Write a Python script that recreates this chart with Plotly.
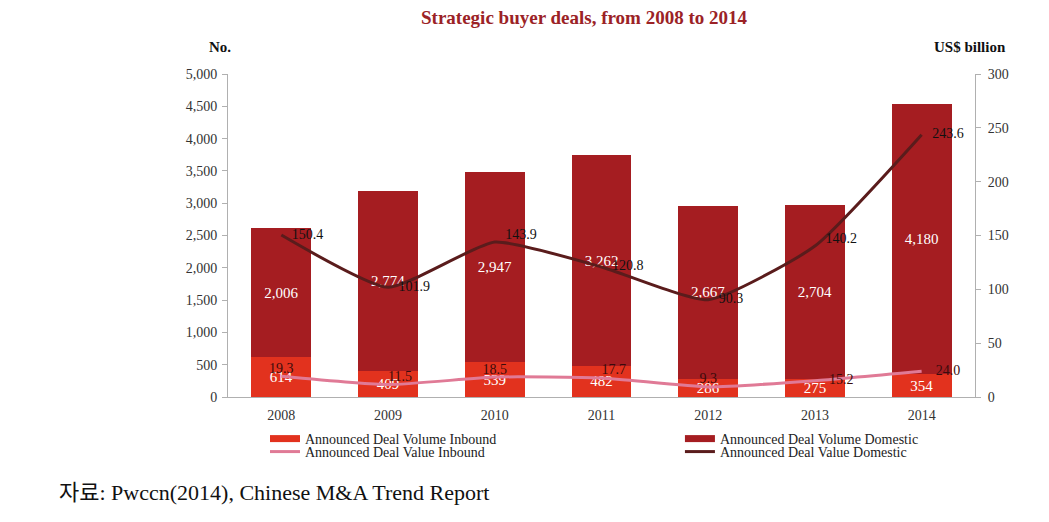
import plotly.graph_objects as go

years = ["2008", "2009", "2010", "2011", "2012", "2013", "2014"]
vol_inbound = [614, 409, 539, 482, 286, 275, 354]
vol_domestic = [2006, 2774, 2947, 3262, 2667, 2704, 4180]
val_inbound = [19.3, 11.5, 18.5, 17.7, 9.3, 15.2, 24.0]
val_domestic = [150.4, 101.9, 143.9, 120.8, 90.3, 140.2, 243.6]

left_ticks = [0, 500, 1000, 1500, 2000, 2500, 3000, 3500, 4000, 4500, 5000]
right_ticks = [0, 50, 100, 150, 200, 250, 300]

SERIF = "Liberation Serif, DejaVu Serif, serif"
C_IN = "#E2321E"
C_DOM = "#A51D21"
C_VIN = "#E07A96"
C_VDOM = "#5A1C1C"
NB = "\u00a0"

fig = go.Figure()
fig.add_trace(go.Bar(
    x=years, y=vol_inbound, name="Announced Deal Volume Inbound",
    marker=dict(color=C_IN, line=dict(width=0)),
    text=[f"{v:,}" for v in vol_inbound], textposition="inside",
    insidetextanchor="middle", constraintext="none",
    textfont=dict(color="white", size=15, family=SERIF),
    showlegend=False,
))
fig.add_trace(go.Bar(
    x=years, y=vol_domestic, name="Announced Deal Volume Domestic",
    marker=dict(color=C_DOM, line=dict(width=0)),
    text=[f"{v:,}" for v in vol_domestic], textposition="inside",
    insidetextanchor="middle", constraintext="none",
    textfont=dict(color="white", size=15, family=SERIF),
    showlegend=False,
))

in_pos = ["top center", "top right", "top center", "top right",
          "top center", "middle right", "middle right"]
in_txt = [(NB * 4 + f"{v:.1f}") if p == "middle right" else f"{v:.1f}"
          for v, p in zip(val_inbound, in_pos)]
fig.add_trace(go.Scatter(
    x=years, y=val_inbound, name="Announced Deal Value Inbound", yaxis="y2",
    mode="lines+text", line=dict(color=C_VIN, width=3, shape="spline", smoothing=0.5),
    text=in_txt, textposition=in_pos,
    textfont=dict(color="#3a0c0c", size=14, family=SERIF),
    legend="legend2",
))
dom_pos = ["middle right", "middle right", "top right", "middle right",
           "middle right", "top right", "middle right"]
fig.add_trace(go.Scatter(
    x=years, y=val_domestic, name="Announced Deal Value Domestic", yaxis="y2",
    mode="lines+text", line=dict(color=C_VDOM, width=3, shape="spline", smoothing=0.5),
    text=[NB * 3 + f"{v:.1f}" for v in val_domestic], textposition=dom_pos,
    textfont=dict(color="#111111", size=14, family=SERIF),
    legend="legend4",
))
# legend keys for the bar series (drawn as wide rectangles like the original)
fig.add_trace(go.Scatter(
    x=[years[0]], y=[None], name="Announced Deal Volume Inbound", mode="lines",
    line=dict(color=C_IN, width=7), legend="legend", hoverinfo="skip",
))
fig.add_trace(go.Scatter(
    x=[years[0]], y=[None], name="Announced Deal Volume Domestic", mode="lines",
    line=dict(color=C_DOM, width=7), legend="legend3", hoverinfo="skip",
))

axis_font = dict(family=SERIF, size=14, color="#333333")
leg_font = dict(family=SERIF, size=14, color="#222222")


def leg(x, y):
    return dict(x=x, y=y, xanchor="left", yanchor="top", orientation="v",
                itemwidth=30, font=leg_font, bgcolor="rgba(0,0,0,0)",
                traceorder="normal")


fig.update_layout(
    width=1041, height=514,
    margin=dict(l=220, r=74, t=66, b=125),
    paper_bgcolor="white", plot_bgcolor="white",
    barmode="stack", bargap=0.44,
    font=dict(family=SERIF, size=12, color="#222222"),
    title=dict(text="<b>Strategic buyer deals, from 2008 to 2014</b>",
               x=0.4766, xref="paper", xanchor="center", y=0.9825, yanchor="middle",
               font=dict(family=SERIF, size=19, color="#9B2226")),
    xaxis=dict(type="category", showline=True, linecolor="#b0b0b0", linewidth=1,
               ticks="", showgrid=False, tickfont=axis_font, ticklabelstandoff=5),
    yaxis=dict(range=[0, 5000], tickvals=left_ticks,
               ticktext=[f"{v:,}" for v in left_ticks],
               showline=True, linecolor="#b0b0b0", ticks="outside", ticklen=5,
               tickcolor="#b0b0b0", showgrid=False, zeroline=False,
               tickfont=axis_font, ticklabelstandoff=2),
    yaxis2=dict(range=[0, 300], tickvals=right_ticks, overlaying="y", side="right",
                showline=True, linecolor="#b0b0b0", ticks="outside", ticklen=5,
                tickcolor="#b0b0b0", showgrid=False, zeroline=False,
                tickfont=axis_font, ticklabelstandoff=4),
    legend=leg(0.0495, -0.0805),
    legend2=leg(0.0495, -0.1207),
    legend3=leg(0.605, -0.0805),
    legend4=leg(0.605, -0.1207),
    showlegend=True,
    annotations=[
        dict(text="<b>No.</b>", xref="paper", yref="paper", x=0.0067, y=1.0836,
             xanchor="right", yanchor="middle", showarrow=False,
             font=dict(family=SERIF, size=15, color="#111111")),
        dict(text="<b>US$ billion</b>", xref="paper", yref="paper", x=1.044, y=1.0836,
             xanchor="right", yanchor="middle", showarrow=False,
             font=dict(family=SERIF, size=15, color="#111111")),
        dict(text="자료: Pwccn(2014), Chinese M&A Trend Report", xref="paper", yref="paper",
             x=-0.2289, y=-0.2972, xanchor="left", yanchor="middle", showarrow=False,
             font=dict(family="Liberation Serif, Noto Sans CJK KR, serif", size=22,
                       color="#111111")),
    ],
)

fig.write_html("out.html")
